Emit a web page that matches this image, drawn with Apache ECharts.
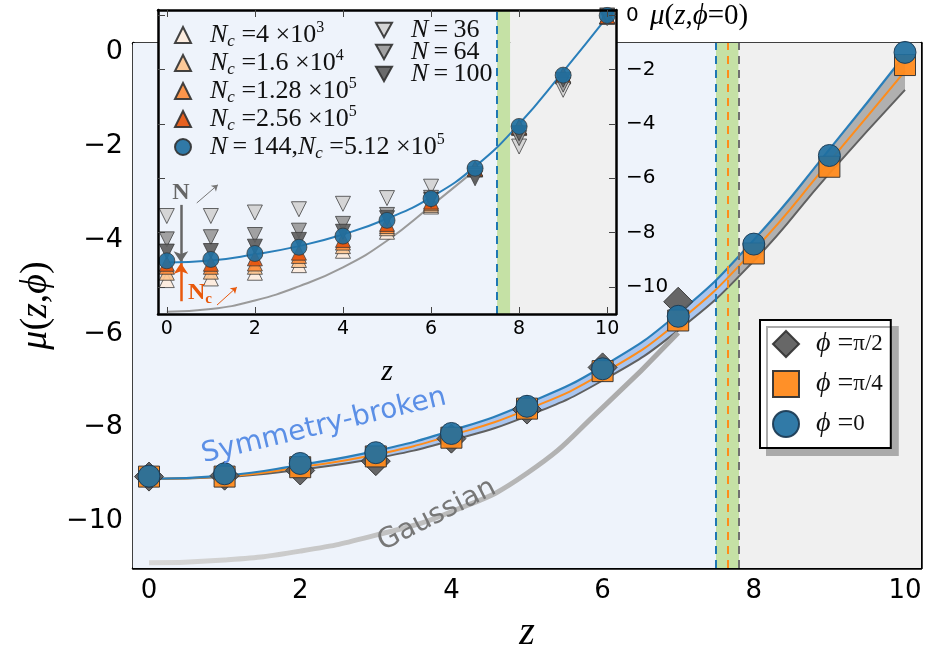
<!DOCTYPE html>
<html><head><meta charset="utf-8">
<script src="https://cdn.jsdelivr.net/npm/echarts@6/dist/echarts.min.js"></script>
<style>html,body{margin:0;padding:0;background:#fff}#c{width:930px;height:660px}</style>
</head><body><div id="c"></div><script>
// ---------- data ----------
const xTicks = [0, 2, 4, 6, 8, 10];
const yTicks = [-10, -8, -6, -4, -2, 0];
const zVals = [0, 1, 2, 3, 4, 5, 6, 7, 8, 9, 10];
const zHalf = [0, 1, 2, 3, 4, 5, 6, 7];
// main markers
const phi0 = [-9.04, -8.99, -8.77, -8.54, -8.13, -7.55, -6.75, -5.63, -4.09, -2.2, 0.0];
const phiQuarter = [-9.05, -9.05, -8.85, -8.62, -8.22, -7.6, -6.8, -5.72, -4.29, -2.44, -0.27];
const phiHalf = [-9.05, -9.03, -8.92, -8.72, -8.24, -7.62, -6.72, -5.32];
// fitted curves
const fitPhi0 = [-9.1, -9.03, -8.8, -8.5, -8.07, -7.49, -6.7, -5.57, -4.0, -2.07, -0.05];
const fitQuarter = [-9.1, -9.05, -8.85, -8.58, -8.17, -7.62, -6.85, -5.75, -4.22, -2.33, -0.4];
const fitHalf = [-9.1, -9.06, -8.9, -8.66, -8.28, -7.76, -7.0, -5.93, -4.45, -2.58, -0.8];
// gaussian curves
const gaussZ = [0, 1, 2, 3, 4, 5, 6, 7];
const gaussMain = [-10.89, -10.83, -10.64, -10.3, -9.8, -8.98, -7.58, -5.98];
const gaussInset = [-10.92, -10.82, -10.5, -9.98, -9.28, -8.3, -7.02, -5.7];
// inset markers
const nc4e3 = [-9.75, -9.69, -9.48, -9.2, -8.67, -7.97, -7.04, -5.68, -4.15, -2.25, -0.05];
const nc16e3 = [-9.48, -9.44, -9.26, -9.01, -8.5, -7.84, -6.98, -5.66, -4.13, -2.23, -0.04];
const nc128e3 = [-9.26, -9.26, -9.14, -8.86, -8.37, -7.76, -6.92, -5.65, -4.11, -2.21, -0.03];
const nc256e3 = [-9.15, -9.15, -8.95, -8.74, -8.27, -7.68, -6.86, -5.64, -4.1, -2.2, -0.02];
const n36 = [-7.39, -7.39, -7.26, -7.14, -6.94, -6.73, -6.31, -5.85, -4.83, -2.74, -0.1];
const n64 = [-8.25, -8.17, -8.09, -7.93, -7.68, -7.35, -6.72, -5.9, -4.52, -2.55, -0.05];
const n100 = [-8.7, -8.68, -8.52, -8.27, -7.97, -7.47, -6.8, -6.0, -4.34, -2.37, 0.0];
// regions
const zBandLo = 7.5, zBandMid = 7.65, zBandHi = 7.8;
// inset annotation arrows [x1,y1,x2,y2]
const arrowN = [0.32, -6.98, 0.32, -9.09];
const arrowNc = [0.32, -10.53, 0.32, -9.12];
const arrowNdiag = [0.68, -6.91, 1.16, -6.24];
const arrowNcDiag = [1.14, -10.67, 1.59, -10.01];

// ---------- layout / styles ----------
const MAIN_W = 788, MAIN_PAD = 16 / 75.6;   // x-range margin so z=0 and z=10 fall on whole pixels
const SERIF = "'Liberation Serif','DejaVu Serif',serif";
const SANS = "'DejaVu Sans',sans-serif";
const BG_BLUE = '#eef3fb', BG_GREEN = '#c5e1a5', BG_GRAY = '#f0f0f0';
const pairs = (xs, ys) => ys.map((y, i) => [xs[i], y]);
const minus = v => (v < 0 ? '\u2212' + Math.abs(v) : String(v));
const DOWN = 'path://M0,0L10,0L5,9Z';

const chart = echarts.init(document.getElementById('c'), null, {renderer: 'canvas'});

function mkAxisX(grid, pos, labels, pad, opts) {
  return Object.assign({
    gridIndex: grid, type: 'value', position: pos, min: -pad, max: 10 + pad,
    axisLine: {show: true, onZero: false, lineStyle: {color: '#000', width: 2.5}},
    axisTick: {show: true, inside: true, length: 7, customValues: xTicks, lineStyle: {color: '#444', width: 1}},
    axisLabel: {show: labels, customValues: xTicks, formatter: minus, color: '#000', fontFamily: SANS},
    splitLine: {show: false}
  }, opts || {});
}
function mkAxisY(grid, pos, labels, opts) {
  return Object.assign({
    gridIndex: grid, type: 'value', position: pos, min: -11, max: 0.2,
    axisLine: {show: true, onZero: false, lineStyle: {color: '#000', width: 2.5}},
    axisTick: {show: true, inside: true, length: 7, customValues: yTicks, lineStyle: {color: '#444', width: 1}},
    axisLabel: {show: labels, customValues: yTicks, formatter: minus, color: '#000', fontFamily: SANS},
    splitLine: {show: false}
  }, opts || {});
}

const legendRich = {
  a: {fontFamily: SERIF, fontStyle: 'italic', fontSize: 26, lineHeight: 30, padding: [0, 0, 0, 14], color: '#111'},
  i: {fontFamily: SERIF, fontStyle: 'italic', fontSize: 26, lineHeight: 30, color: '#111'},
  s: {fontFamily: SERIF, fontStyle: 'italic', fontSize: 17, verticalAlign: 'bottom', lineHeight: 18, color: '#111'},
  t: {fontFamily: SERIF, fontSize: 26, lineHeight: 30, color: '#111'},
  p: {fontFamily: SERIF, fontSize: 16, verticalAlign: 'top', lineHeight: 16, color: '#111'}
};
const legendText = {
  'Nc=4e3': '{a|N}{s|c}{t| =4 ×10}{p|3}',
  'Nc=1.6e4': '{a|N}{s|c}{t| =1.6 ×10}{p|4}',
  'Nc=1.28e5': '{a|N}{s|c}{t| =1.28 ×10}{p|5}',
  'Nc=2.56e5': '{a|N}{s|c}{t| =2.56 ×10}{p|5}',
  'N=144': '{a|N}{t|\u2009=\u2009144,}{i|N}{s|c}{t| =5.12 ×10}{p|5}',
  'N=36': '{a|N}{t|\u2009=\u200936}',
  'N=64': '{a|N}{t|\u2009=\u200964}',
  'N=100': '{a|N}{t|\u2009=\u2009100}',
  'phi2': '{v|ϕ}{o| =}{n|π/2}',
  'phi4': '{v|ϕ}{o| =}{n|π/4}',
  'phi0': '{v|ϕ}{o| =}{n|0}'
};
const mainRich = {
  v: {fontFamily: SERIF, fontStyle: 'italic', fontSize: 28, padding: [0, 0, 0, 12], color: '#111'},
  o: {fontFamily: SERIF, fontSize: 28, color: '#111'},
  n: {fontFamily: SERIF, fontSize: 23, color: '#111'}
};

function insetScatter(name, ys, symbol, color, size) {
  return {
    name: name, type: 'scatter', xAxisIndex: 2, yAxisIndex: 2, z: 12,
    symbol: symbol, symbolSize: size, data: pairs(zVals, ys),
    itemStyle: {color: color, borderColor: '#333', borderWidth: 0.8, opacity: 0.92}
  };
}
function arrowLine(a, color, width, head) {
  return [{coord: [a[0], a[1]], lineStyle: {color: color, width: width}, symbolSize: head},
          {coord: [a[2], a[3]], symbolSize: head}];
}
function bgAreas(pad) {
  return [
    [{xAxis: -pad, itemStyle: {color: BG_BLUE, opacity: 1}}, {xAxis: zBandLo}],
    [{xAxis: zBandLo, itemStyle: {color: BG_GREEN, opacity: 1}}, {xAxis: zBandHi}],
    [{xAxis: zBandHi, itemStyle: {color: BG_GRAY, opacity: 1}}, {xAxis: 10 + pad}]];
}

// fills span z = 0..10, so gradient offsets are z/10
const bandGrad = new echarts.graphic.LinearGradient(0, 0, 1, 0, [
  {offset: 0, color: '#a9c5ef'}, {offset: zBandMid / 10, color: '#a9c5ef'},
  {offset: zBandMid / 10, color: '#b0b0b0'}, {offset: 1, color: '#b0b0b0'}]);
const maskGrad = new echarts.graphic.LinearGradient(0, 0, 1, 0, [
  {offset: 0, color: BG_BLUE}, {offset: zBandLo / 10, color: BG_BLUE},
  {offset: zBandLo / 10, color: BG_GREEN}, {offset: zBandHi / 10, color: BG_GREEN},
  {offset: zBandHi / 10, color: BG_GRAY}, {offset: 1, color: BG_GRAY}]);
const gaussGrad = new echarts.graphic.LinearGradient(0, 0, 1, 0, [
  {offset: 0, color: '#d8d8d8'}, {offset: 1, color: '#a6a6a6'}]);

const option = {
  animation: false,
  backgroundColor: '#fff',
  grid: [
    {left: 133, top: 43, width: MAIN_W, height: 525},
    {left: 158, top: 10, width: 458, height: 304}
  ],
  xAxis: [
    mkAxisX(0, 'bottom', true, MAIN_PAD, {name: 'z', nameLocation: 'middle', nameGap: 45,
      nameTextStyle: {fontFamily: SERIF, fontStyle: 'italic', fontSize: 40, color: '#000'},
      axisLabel: {show: true, customValues: xTicks, formatter: minus, color: '#000', fontFamily: SANS, fontSize: 26, margin: 10}}),
    mkAxisX(0, 'top', false, MAIN_PAD),
    mkAxisX(1, 'bottom', true, 0.2, {z: 20, name: 'z', nameLocation: 'middle', nameGap: 43,
      nameTextStyle: {fontFamily: SERIF, fontStyle: 'italic', fontSize: 30, color: '#000'},
      axisLabel: {show: true, customValues: xTicks, formatter: minus, color: '#000', fontFamily: SANS, fontSize: 19, margin: 6}}),
    mkAxisX(1, 'top', false, 0.2, {z: 20})
  ],
  yAxis: [
    mkAxisY(0, 'left', true, {name: '{i|μ}{r|(}{i|z}{r|,}{i|ϕ}{r|)}', nameLocation: 'middle', nameGap: 78,
      nameTextStyle: {rich: {i: {fontFamily: SERIF, fontStyle: 'italic', fontSize: 38, color: '#000'},
                             r: {fontFamily: SERIF, fontSize: 38, color: '#000'}}},
      axisLabel: {show: true, customValues: yTicks, formatter: minus, color: '#000', fontFamily: SANS, fontSize: 27, margin: 10}}),
    mkAxisY(0, 'right', false),
    mkAxisY(1, 'right', true, {z: 20,
      axisLabel: {show: true, customValues: yTicks, formatter: minus, color: '#000', fontFamily: SANS, fontSize: 20, margin: 10}}),
    mkAxisY(1, 'left', false, {z: 20})
  ],
  legend: [
    {data: ['phi2', 'phi4', 'phi0'], left: 760, top: 320, orient: 'vertical', z: 30,
     itemWidth: 26, itemHeight: 26, itemGap: 12, padding: [10, 8, 10, 12], selectedMode: false,
     backgroundColor: '#fff', borderColor: '#000', borderWidth: 2, borderRadius: 0,
     shadowColor: '#aaa', shadowOffsetX: 7, shadowOffsetY: 7, shadowBlur: 0,
     formatter: n => legendText[n], textStyle: {rich: mainRich}},
    {data: ['Nc=4e3', 'Nc=1.6e4', 'Nc=1.28e5', 'Nc=2.56e5', 'N=144'], left: 174, top: 20, orient: 'vertical', z: 30,
     itemWidth: 16, itemHeight: 16, itemGap: -2, padding: 0, selectedMode: false,
     formatter: n => legendText[n], textStyle: {rich: legendRich}},
    {data: ['N=36', 'N=64', 'N=100'], left: 375, top: 17, orient: 'vertical', z: 30,
     itemWidth: 16, itemHeight: 16, itemGap: -4, padding: 0, selectedMode: false,
     formatter: n => legendText[n], textStyle: {rich: legendRich}}
  ],
  graphic: [
    {type: 'text', x: 324, y: 426, rotation: 13.5 * Math.PI / 180, z: 40,
     style: {text: 'Symmetry-broken', fill: '#5b8fe6', font: "28px 'DejaVu Sans'", align: 'center', verticalAlign: 'middle'}},
    {type: 'text', x: 437, y: 515, rotation: 27 * Math.PI / 180, z: 40,
     style: {text: 'Gaussian', fill: '#777', font: "28px 'DejaVu Sans'", align: 'center', verticalAlign: 'middle'}},
    {type: 'text', x: 650, y: 16, z: 40,
     style: {text: '{i|μ}{r|(}{i|z}{r|,}{i|ϕ}{r|=0)}', align: 'left', verticalAlign: 'middle',
       rich: {i: {fontFamily: SERIF, fontStyle: 'italic', fontSize: 29, fill: '#000'}, r: {fontFamily: SERIF, fontSize: 29, fill: '#000'}}}},
    {type: 'text', x: 181, y: 193, z: 40,
     style: {text: 'N', fill: '#666', font: "bold 24px 'Liberation Serif'", align: 'center', verticalAlign: 'middle'}},
    {type: 'text', x: 188, y: 293, z: 40,
     style: {text: '{b|N}{c|c}', align: 'left', verticalAlign: 'middle',
       rich: {b: {fontFamily: SERIF, fontWeight: 'bold', fontSize: 24, fill: '#e8590c', lineHeight: 28},
              c: {fontFamily: SERIF, fontWeight: 'bold', fontSize: 15, fill: '#e8590c', verticalAlign: 'bottom', lineHeight: 16}}}}
  ],
  series: [
    // main background regions
    {type: 'line', xAxisIndex: 0, yAxisIndex: 0, data: [], z: 1, silent: true,
     markArea: {silent: true, data: bgAreas(MAIN_PAD)}},
    // band: fill under phi=0 fit, then repaint background under phi=pi/2 fit
    {name: 'bandTop', type: 'line', xAxisIndex: 0, yAxisIndex: 0, z: 2, smooth: true, symbol: 'none', silent: true,
     data: pairs(zVals, fitPhi0), lineStyle: {width: 0}, areaStyle: {origin: 'start', color: bandGrad, opacity: 1}},
    {name: 'fitHalf', type: 'line', xAxisIndex: 0, yAxisIndex: 0, z: 3, smooth: true, symbol: 'none', silent: true,
     data: pairs(zVals, fitHalf), lineStyle: {color: '#606060', width: 2},
     areaStyle: {origin: 'start', color: maskGrad, opacity: 1}},
    // gaussian
    {type: 'line', xAxisIndex: 0, yAxisIndex: 0, z: 3, smooth: true, symbol: 'none', silent: true,
     data: pairs(gaussZ, gaussMain), lineStyle: {color: gaussGrad, width: 5}},
    {name: 'fitQuarter', type: 'line', xAxisIndex: 0, yAxisIndex: 0, z: 4, smooth: true, symbol: 'none', silent: true,
     data: pairs(zVals, fitQuarter), lineStyle: {color: '#ff8c1a', width: 2}},
    {name: 'fitPhi0', type: 'line', xAxisIndex: 0, yAxisIndex: 0, z: 4, smooth: true, symbol: 'none', silent: true,
     data: pairs(zVals, fitPhi0), lineStyle: {color: '#2a7fba', width: 2.2}},
    // main markers
    {name: 'phi2', type: 'scatter', xAxisIndex: 0, yAxisIndex: 0, z: 5, symbol: 'diamond', symbolSize: 29,
     data: pairs(zHalf, phiHalf), itemStyle: {color: '#5a5a5a', borderColor: '#333', borderWidth: 1, opacity: 0.92}},
    {name: 'phi4', type: 'scatter', xAxisIndex: 0, yAxisIndex: 0, z: 5, symbol: 'rect', symbolSize: 21,
     data: pairs(zVals, phiQuarter), itemStyle: {color: '#ff8a1c', borderColor: '#333', borderWidth: 1, opacity: 0.95}},
    {name: 'phi0', type: 'scatter', xAxisIndex: 0, yAxisIndex: 0, z: 5, symbol: 'circle', symbolSize: 22,
     data: pairs(zVals, phi0), itemStyle: {color: '#1f6fa0', borderColor: '#1b3a52', borderWidth: 1, opacity: 0.92}},
    // dashed transition lines
    {type: 'line', xAxisIndex: 0, yAxisIndex: 0, data: [], z: 6, silent: true,
     markLine: {silent: true, symbol: 'none', label: {show: false},
       lineStyle: {type: [8, 6], width: 2},
       data: [{xAxis: zBandLo, lineStyle: {color: '#1f77b4'}},
              {xAxis: zBandMid, lineStyle: {color: '#ff8c1a'}},
              {xAxis: zBandHi, lineStyle: {color: '#707070'}}]}},
    // ----- inset -----
    {type: 'line', xAxisIndex: 2, yAxisIndex: 2, data: [], z: 10, silent: true,
     markArea: {silent: true, data: bgAreas(0.2)},
     markLine: {silent: true, symbol: 'none', label: {show: false},
       lineStyle: {type: [8, 6], width: 2, color: '#1f77b4'}, data: [{xAxis: zBandLo}]}},
    {type: 'line', xAxisIndex: 2, yAxisIndex: 2, z: 11, smooth: true, symbol: 'none', silent: true,
     data: pairs(gaussZ, gaussInset), lineStyle: {color: '#9a9a9a', width: 2}},
    {type: 'line', xAxisIndex: 2, yAxisIndex: 2, z: 11, smooth: true, symbol: 'none', silent: true,
     data: pairs(zVals, fitPhi0), lineStyle: {color: '#2a7fba', width: 2}},
    insetScatter('Nc=4e3', nc4e3, 'triangle', '#fdebdc', 15),
    insetScatter('Nc=1.6e4', nc16e3, 'triangle', '#fdc590', 15),
    insetScatter('Nc=1.28e5', nc128e3, 'triangle', '#fd8d3c', 15),
    insetScatter('Nc=2.56e5', nc256e3, 'triangle', '#e6550d', 15),
    insetScatter('N=36', n36, DOWN, '#d2d2d2', 15),
    insetScatter('N=64', n64, DOWN, '#9a9a9a', 15),
    insetScatter('N=100', n100, DOWN, '#5e5e5e', 15),
    insetScatter('N=144', phi0, 'circle', '#1f6fa0', 16),
    {type: 'line', xAxisIndex: 2, yAxisIndex: 2, data: [], z: 13, silent: true,
     markLine: {silent: true, symbol: ['none', 'arrow'], label: {show: false}, lineStyle: {type: 'solid'},
       data: [arrowLine(arrowN, '#666', 2.5, 11), arrowLine(arrowNc, '#e8590c', 2.5, 11),
              arrowLine(arrowNdiag, '#777', 1, 6), arrowLine(arrowNcDiag, '#e8590c', 1, 6)]}}
  ]
};
chart.setOption(option);
</script></body></html>
